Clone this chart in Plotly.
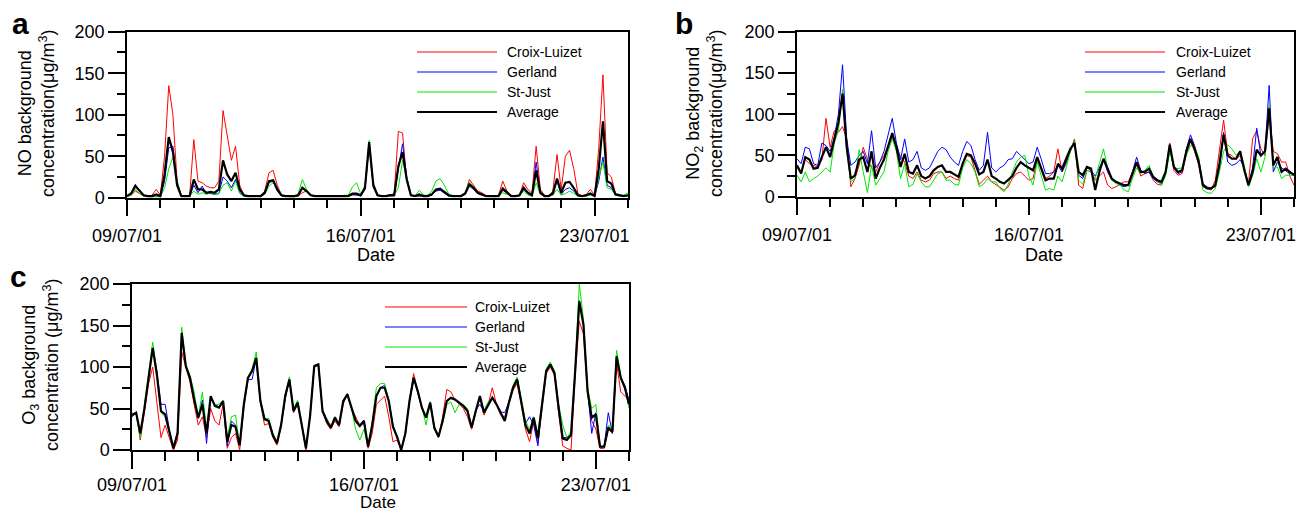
import plotly.graph_objects as go
import pandas as pd

W, H = 1297, 511

# ---------------- data (3-hourly, 09/07/01 00:00 -> 24/07/01 00:00) ----------------
start = "2001-07-09"
n_points = 121
times = pd.date_range(start, periods=n_points, freq="3h")

station_names = ["Croix-Luizet", "Gerland", "St-Just", "Average"]
station_colors = ["#ff0000", "#0000ff", "#00e600", "#000000"]
station_widths = [1, 1, 1, 2.2]

# Panel a : NO
no_croix = [2, 3, 8, 5, 2, 2, 3, 10,
            3, 50, 135, 100, 20, 3, 2, 2,
            70, 20, 18, 14, 12, 12, 20, 105,
            75, 45, 62, 15, 3, 2, 2, 2,
            2, 8, 30, 33, 15, 3, 2, 2,
            1, 2, 6, 8, 3, 2, 2, 2,
            2, 2, 2, 2, 2, 2, 3, 4,
            2, 10, 65, 12, 3, 2, 2, 3,
            5, 80, 78, 20, 3, 2, 2, 2,
            2, 3, 8, 10, 6, 3, 2, 2,
            2, 5, 22, 15, 8, 6, 2, 2,
            2, 3, 20, 8, 3, 2, 3, 18,
            10, 5, 62, 10, 3, 2, 8, 52,
            10, 50, 57, 35, 5, 2, 4, 10,
            3, 60, 148, 30, 25, 5, 3, 2,
            3]
no_gerland = [2, 6, 16, 8, 2, 2, 2, 2,
              1, 20, 60, 62, 18, 2, 2, 2,
              15, 6, 14, 5, 5, 4, 5, 25,
              20, 12, 22, 6, 2, 2, 2, 2,
              2, 5, 18, 20, 8, 2, 2, 2,
              2, 3, 11, 8, 3, 2, 2, 2,
              2, 2, 2, 2, 2, 2, 4, 3,
              2, 10, 62, 14, 3, 2, 2, 2,
              2, 35, 65, 25, 3, 2, 2, 2,
              2, 3, 8, 9, 6, 2, 2, 2,
              2, 4, 14, 10, 5, 3, 2, 2,
              2, 2, 9, 5, 2, 2, 2, 10,
              5, 2, 43, 5, 2, 2, 4, 20,
              4, 10, 12, 8, 2, 2, 2, 4,
              2, 20, 49, 15, 12, 3, 2, 2,
              2]
no_stjust = [1, 3, 10, 5, 2, 1, 1, 1,
             1, 12, 35, 49, 20, 3, 2, 2,
             8, 4, 6, 4, 6, 4, 5, 15,
             18, 8, 20, 5, 2, 2, 2, 2,
             1, 4, 14, 18, 12, 3, 2, 1,
             1, 5, 22, 10, 4, 2, 2, 2,
             2, 2, 2, 2, 3, 3, 13, 18,
             4, 15, 69, 18, 4, 2, 2, 3,
             3, 12, 45, 25, 4, 2, 9, 3,
             3, 8, 20, 23, 15, 5, 2, 2,
             2, 6, 19, 13, 7, 4, 2, 2,
             1, 2, 6, 4, 2, 2, 2, 8,
             3, 2, 18, 4, 2, 2, 3, 10,
             3, 5, 8, 5, 2, 2, 2, 3,
             2, 25, 43, 12, 10, 3, 2, 3,
             6]
no_average = [2, 5, 14, 8, 3, 2, 2, 4,
              2, 28, 73, 55, 15, 2, 2, 2,
              22, 10, 10, 6, 7, 6, 10, 45,
              28, 20, 30, 10, 3, 2, 2, 2,
              2, 6, 20, 21, 10, 3, 2, 2,
              2, 3, 12, 8, 3, 2, 2, 2,
              2, 2, 2, 2, 2, 2, 5, 5,
              3, 12, 67, 15, 3, 2, 2, 3,
              3, 38, 55, 22, 3, 2, 4, 2,
              2, 4, 10, 11, 7, 3, 2, 2,
              2, 5, 16, 12, 6, 4, 2, 2,
              2, 2, 11, 6, 2, 2, 3, 12,
              6, 3, 33, 6, 2, 2, 5, 23,
              6, 18, 19, 12, 3, 2, 3, 5,
              2, 35, 92, 20, 17, 4, 3, 2,
              3]

# Panel b : NO2
no2_croix = [35, 30, 45, 40, 38, 36, 45, 95,
             60, 80, 78, 85, 70, 12, 22, 38,
             60, 45, 35, 30, 42, 50, 62, 72,
             62, 48, 42, 25, 22, 30, 20, 18,
             20, 28, 30, 30, 22, 25, 22, 20,
             40, 50, 48, 30, 15, 20, 25, 18,
             15, 12, 8, 12, 22, 28, 30, 25,
             20, 22, 45, 35, 22, 25, 30, 58,
             30, 40, 55, 70, 14, 10, 32, 30,
             20, 25, 30, 14, 10, 12, 15, 18,
             18, 30, 38, 25, 28, 30, 20, 15,
             14, 30, 65, 32, 26, 28, 52, 67,
             55, 38, 12, 10, 8, 20, 55, 93,
             52, 50, 45, 50, 35, 15, 70, 80,
             58, 50, 100, 55, 52, 42, 42, 25,
             14]
no2_gerland = [46, 40, 60, 58, 40, 38, 65, 62,
               55, 72, 100, 160, 70, 38, 42, 50,
               55, 40, 80, 35, 42, 55, 75, 95,
               65, 45, 70, 42, 45, 55, 35, 32,
               35, 45, 55, 60, 57, 48, 42, 38,
               55, 67, 62, 45, 32, 38, 78, 35,
               30, 35, 38, 45, 46, 55, 50, 45,
               40, 42, 60, 45, 28, 28, 30, 38,
               30, 42, 55, 68, 26, 22, 35, 32,
               25, 35, 45, 30, 20, 18, 14, 12,
               14, 30, 48, 32, 28, 30, 22, 18,
               16, 28, 58, 35, 28, 30, 58, 75,
               62, 45, 16, 12, 10, 12, 35, 78,
               42, 38, 40, 45, 35, 15, 35, 83,
               50, 55, 135, 30, 42, 35, 32, 28,
               28]
no2_stjust = [26, 18, 30, 18, 22, 25, 30, 35,
              30, 65, 80, 130, 55, 18, 22, 57,
              30, 5, 38, 14, 22, 30, 55, 70,
              55, 22, 40, 12, 15, 28, 18, 12,
              12, 20, 28, 30, 20, 20, 15, 14,
              35, 45, 40, 30, 12, 15, 22, 18,
              18, 10, 6, 15, 30, 42, 48, 50,
              25, 14, 42, 25, 8, 10, 8, 25,
              18, 35, 55, 68, 20, 15, 32, 30,
              22, 40, 58, 35, 20, 16, 14, 8,
              6, 22, 35, 28, 32, 38, 25, 20,
              14, 25, 55, 35, 34, 35, 50, 62,
              60, 48, 8, 5, 4, 10, 30, 55,
              63, 58, 50, 55, 38, 12, 25, 46,
              30, 48, 111, 35, 36, 22, 26, 26,
              26]
no2_average = [38, 28, 48, 45, 34, 35, 48, 60,
               48, 68, 90, 125, 60, 22, 26, 45,
               48, 30, 55, 22, 35, 45, 62, 77,
               60, 36, 52, 30, 28, 38, 25, 22,
               25, 32, 36, 38, 30, 30, 27, 24,
               40, 52, 50, 40, 27, 30, 45, 25,
               22, 18, 16, 20, 25, 35, 42, 38,
               35, 32, 48, 35, 20, 22, 22, 40,
               34, 46, 58, 65, 30, 26, 36, 34,
               8, 30, 46, 34, 22, 18, 16, 14,
               14, 28, 42, 30, 30, 34, 24, 20,
               18, 30, 63, 36, 30, 32, 55, 70,
               58, 42, 14, 10, 10, 14, 40, 75,
               50, 46, 46, 55, 32, 14, 30, 57,
               50, 55, 107, 38, 48, 30, 34, 30,
               26]

# Panel c : O3
o3_croix = [40, 45, 12, 45, 80, 100, 55, 15,
            30, 15, 0, 12, 118, 100, 82, 55,
            30, 40, 15, 50, 35, 30, 55, 2,
            15, 20, 0, 50, 85, 95, 108, 58,
            30, 32, 15, 6, 28, 62, 85, 45,
            55, 28, 0, 40, 100, 102, 48, 32,
            25, 35, 28, 55, 68, 50, 40, 30,
            32, 2, 20, 55, 60, 65, 40, 10,
            12, 0, 18, 60, 92, 72, 50, 40,
            55, 25, 15, 40, 73, 70, 60, 55,
            50, 40, 25, 45, 62, 42, 55, 75,
            55, 42, 40, 55, 72, 80, 55, 25,
            10, 35, 8, 50, 92, 100, 90, 45,
            5, 2, 0, 90, 155, 140, 68, 35,
            25, 2, 2, 25, 20, 105, 70, 65,
            60]
o3_gerland = [40, 45, 18, 50, 88, 122, 95, 55,
              55, 25, 2, 22, 138, 100, 88, 62,
              38, 60, 8, 62, 55, 52, 58, 5,
              35, 30, 5, 55, 85, 85, 110, 60,
              38, 36, 18, 8, 30, 63, 85, 48,
              58, 30, 2, 42, 102, 104, 48, 38,
              28, 40, 30, 58, 66, 50, 36, 30,
              36, 4, 30, 66, 75, 78, 60, 30,
              16, 0, 20, 58, 87, 70, 50, 40,
              58, 28, 16, 35, 60, 62, 60, 57,
              54, 48, 28, 48, 55, 46, 55, 62,
              56, 46, 45, 58, 76, 86, 60, 32,
              40, 30, 5, 55, 96, 104, 94, 52,
              15, 15, 18, 95, 180, 152, 72, 20,
              45, 4, 4, 45, 20, 112, 88, 78,
              60]
o3_stjust = [45, 42, 15, 52, 90, 130, 95, 45,
             40, 20, 2, 22, 148, 102, 90, 70,
             40, 70, 25, 65, 55, 55, 60, 15,
             40, 42, 5, 58, 88, 98, 118, 60,
             38, 38, 20, 10, 32, 68, 88, 50,
             60, 32, 2, 43, 102, 103, 45, 38,
             28, 40, 30, 60, 68, 50, 25, 12,
             25, 4, 35, 75, 80, 80, 60, 30,
             16, 0, 22, 60, 85, 72, 52, 30,
             58, 25, 18, 32, 55, 58, 45, 55,
             55, 50, 28, 48, 62, 48, 58, 62,
             55, 45, 35, 58, 78, 88, 60, 35,
             25, 40, 20, 58, 98, 106, 95, 55,
             30, 15, 22, 98, 200, 158, 75, 50,
             55, 4, 4, 30, 25, 120, 90, 75,
             50]
o3_average = [42, 45, 20, 50, 87, 123, 91, 47,
              43, 24, 2, 20, 141, 101, 87, 61,
              39, 55, 20, 65, 53, 51, 59, 10,
              30, 28, 6, 55, 87, 95, 111, 59,
              37, 35, 18, 8, 30, 65, 85, 47,
              57, 30, 2, 41, 101, 103, 47, 35,
              27, 39, 30, 59, 67, 51, 35, 29,
              35, 4, 30, 65, 75, 75, 59, 28,
              16, 0, 20, 59, 87, 71, 51, 39,
              57, 27, 16, 35, 59, 63, 61, 57,
              53, 47, 27, 47, 65, 45, 55, 63,
              55, 45, 35, 57, 75, 85, 59, 30,
              20, 39, 14, 55, 95, 103, 93, 51,
              14, 12, 18, 95, 179, 151, 71, 39,
              43, 4, 4, 27, 22, 113, 87, 75,
              55]

x_tick_vals = ["2001-07-09", "2001-07-16", "2001-07-23"]
x_tick_text = ["09/07/01", "16/07/01", "23/07/01"]
y_tick_vals = [0, 50, 100, 150, 200]
y_minor_vals = [25, 75, 125, 175]
x_range = ["2001-07-09", "2001-07-24"]
day_ticks = [str(d.date()) for d in pd.date_range("2001-07-09", "2001-07-24", freq="D")]

panels = [
    dict(series=[no_croix, no_gerland, no_stjust, no_average],
         ytitle="NO background<br>concentration(μg/m<sup>3</sup>)", letter="a",
         box=(127, 628, 31.7, 197.7), title_xy=(36, 114), date_xy=(376, 255), date_size=18,
         standoff=4, letter_xy=(20, 23), legend=(417, 497, 505, 52)),
    dict(series=[no2_croix, no2_gerland, no2_stjust, no2_average],
         ytitle="NO<sub>2</sub> background<br>concentration(μg/m<sup>3</sup>)", letter="b",
         box=(797, 1294, 31.7, 196.7), title_xy=(704, 114), date_xy=(1044, 255), date_size=18,
         standoff=4, letter_xy=(684, 23), legend=(1085, 1165, 1174, 52)),
    dict(series=[o3_croix, o3_gerland, o3_stjust, o3_average],
         ytitle="O<sub>3</sub> background<br>concentration (μg/m<sup>3</sup>)", letter="c",
         box=(132, 629, 284, 450), title_xy=(40, 365), date_xy=(378, 502), date_size=17,
         standoff=1, letter_xy=(18, 276), legend=(385, 467, 473, 307)),
]

FONT = "Liberation Sans, Arial, sans-serif"

def px(x):
    return x / W

def py(y):
    return 1 - y / H

fig = go.Figure()
layout = dict(width=W, height=H, margin=dict(l=0, r=0, t=0, b=0, autoexpand=False),
              paper_bgcolor="white", plot_bgcolor="white", showlegend=False,
              font=dict(family=FONT, size=18, color="black"))
annotations = []
shapes = []

for k, p in enumerate(panels):
    idx = k + 1
    xa = "x" if idx == 1 else f"x{idx}"
    ya = "y" if idx == 1 else f"y{idx}"
    for s, name, col, lw in zip(p["series"], station_names, station_colors, station_widths):
        fig.add_trace(go.Scatter(x=times, y=s, mode="lines", name=name,
                                 line=dict(color=col, width=lw), xaxis=xa, yaxis=ya))
    x0, x1, y0, y1 = p["box"]
    xkey = "xaxis" if idx == 1 else f"xaxis{idx}"
    ykey = "yaxis" if idx == 1 else f"yaxis{idx}"
    layout[xkey] = dict(domain=[px(x0), px(x1)], anchor=ya, type="date", range=x_range,
                        tickmode="array", tickvals=x_tick_vals, ticktext=x_tick_text,
                        ticks="outside", ticklen=17, tickwidth=1.5, tickcolor="black",
                        ticklabelstandoff=p["standoff"],
                        showline=True, linecolor="black", linewidth=1.5, mirror=True,
                        showgrid=False, zeroline=False, tickfont=dict(size=18),
                        automargin=False,
                        minor=dict(tickmode="array", tickvals=day_ticks, ticks="outside",
                                   ticklen=9, tickwidth=1.5, tickcolor="black", showgrid=False))
    layout[ykey] = dict(domain=[py(y1), py(y0)], anchor=xa, range=[0, 200],
                        tickmode="array", tickvals=y_tick_vals,
                        ticks="outside", ticklen=17, tickwidth=1.5, tickcolor="black",
                        showline=True, linecolor="black", linewidth=1.5, mirror=True,
                        showgrid=False, zeroline=False, tickfont=dict(size=18),
                        automargin=False,
                        minor=dict(tickmode="array", tickvals=y_minor_vals, ticks="outside",
                                   ticklen=8, tickwidth=1.5, tickcolor="black", showgrid=False))
    # right-hand inner ticks (secondary scale, 6 divisions)
    rkey = f"yaxis{idx + 3}"
    layout[rkey] = dict(overlaying=ya, anchor=xa, side="right", range=[0, 6],
                        tickmode="linear", tick0=0, dtick=1, ticks="inside", ticklen=10,
                        tickwidth=1.5, tickcolor="black", showticklabels=False,
                        showline=False, showgrid=False, zeroline=False, automargin=False)
    # axis title
    tx, ty = p["title_xy"]
    annotations.append(dict(text=p["ytitle"], x=px(tx), y=py(ty), xref="paper", yref="paper",
                            xanchor="center", yanchor="middle", textangle=-90, showarrow=False,
                            font=dict(size=18)))
    dx, dy = p["date_xy"]
    annotations.append(dict(text="Date", x=px(dx), y=py(dy), xref="paper", yref="paper",
                            xanchor="center", yanchor="middle", showarrow=False,
                            font=dict(size=p["date_size"])))
    lx, ly = p["letter_xy"]
    annotations.append(dict(text="<b>%s</b>" % p["letter"], x=px(lx), y=py(ly), xref="paper",
                            yref="paper", xanchor="center", yanchor="middle", showarrow=False,
                            font=dict(size=30)))
    # manual legend
    lx0, lx1, ltx, lty = p["legend"]
    for j, (name, col, lw) in enumerate(zip(station_names, station_colors, station_widths)):
        yy = lty + 20 * j
        shapes.append(dict(type="line", xref="paper", yref="paper", x0=px(lx0), x1=px(lx1),
                           y0=py(yy), y1=py(yy), line=dict(color=col, width=lw)))
        annotations.append(dict(text=name, x=px(ltx), y=py(yy), xref="paper", yref="paper",
                                xanchor="left", yanchor="middle", showarrow=False,
                                font=dict(size=14)))

layout["annotations"] = annotations
layout["shapes"] = shapes
fig.update_layout(**layout)
fig.write_html("out.html")
